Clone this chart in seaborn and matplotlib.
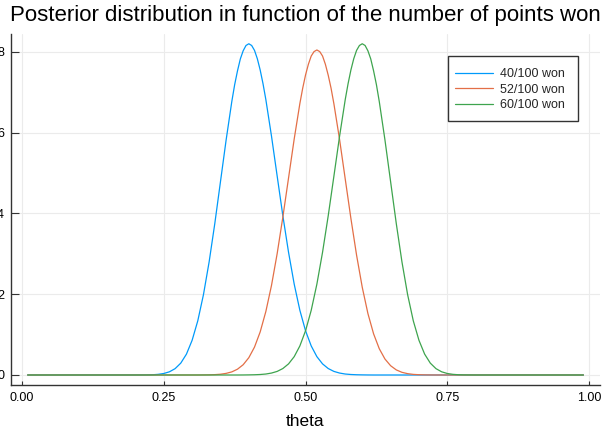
import pandas as pd
import matplotlib.pyplot as plt
import matplotlib.patches as mpatches
import seaborn as sns

# =====================================================================
# DATA
# =====================================================================
theta = [
    0.01, 0.02, 0.03, 0.04, 0.05, 0.06, 0.07, 0.08, 0.09, 0.10,
    0.11, 0.12, 0.13, 0.14, 0.15, 0.16, 0.17, 0.18, 0.19, 0.20,
    0.21, 0.22, 0.23, 0.24, 0.25, 0.26, 0.27, 0.28, 0.29, 0.30,
    0.31, 0.32, 0.33, 0.34, 0.35, 0.36, 0.37, 0.38, 0.39, 0.40,
    0.41, 0.42, 0.43, 0.44, 0.45, 0.46, 0.47, 0.48, 0.49, 0.50,
    0.51, 0.52, 0.53, 0.54, 0.55, 0.56, 0.57, 0.58, 0.59, 0.60,
    0.61, 0.62, 0.63, 0.64, 0.65, 0.66, 0.67, 0.68, 0.69, 0.70,
    0.71, 0.72, 0.73, 0.74, 0.75, 0.76, 0.77, 0.78, 0.79, 0.80,
    0.81, 0.82, 0.83, 0.84, 0.85, 0.86, 0.87, 0.88, 0.89, 0.90,
    0.91, 0.92, 0.93, 0.94, 0.95, 0.96, 0.97, 0.98, 0.99,
]

won_40 = [
    0, 0, 0, 0, 0, 0, 0, 0, 0, 0,
    0, 0, 0, 0, 0, 0, 0, 0, 0, 0,
    0.001, 0.002, 0.006, 0.016, 0.037, 0.079, 0.157, 0.294, 0.517, 0.859,
    1.342, 1.990, 2.801, 3.751, 4.788, 5.824, 6.774, 7.532, 8.029, 8.204,
    8.040, 7.555, 6.822, 5.913, 4.924, 3.944, 3.041, 2.251, 1.602, 1.095,
    0.720, 0.454, 0.275, 0.160, 0.089, 0.048, 0.024, 0.012, 0.006, 0.003,
    0.001, 0, 0, 0, 0, 0, 0, 0, 0, 0,
    0, 0, 0, 0, 0, 0, 0, 0, 0, 0,
    0, 0, 0, 0, 0, 0, 0, 0, 0, 0,
    0, 0, 0, 0, 0, 0, 0, 0, 0,
]

won_52 = [
    0, 0, 0, 0, 0, 0, 0, 0, 0, 0,
    0, 0, 0, 0, 0, 0, 0, 0, 0, 0,
    0, 0, 0, 0, 0, 0, 0, 0, 0, 0,
    0, 0.002, 0.004, 0.009, 0.019, 0.040, 0.077, 0.144, 0.254, 0.429,
    0.691, 1.066, 1.572, 2.220, 3.009, 3.911, 4.877, 5.845, 6.724, 7.431,
    7.900, 8.050, 7.900, 7.424, 6.717, 5.834, 4.853, 3.876, 2.967, 2.172,
    1.521, 1.019, 0.651, 0.396, 0.230, 0.126, 0.066, 0.033, 0.015, 0.007,
    0.003, 0.001, 0, 0, 0, 0, 0, 0, 0, 0,
    0, 0, 0, 0, 0, 0, 0, 0, 0, 0,
    0, 0, 0, 0, 0, 0, 0, 0, 0,
]

won_60 = [
    0, 0, 0, 0, 0, 0, 0, 0, 0, 0,
    0, 0, 0, 0, 0, 0, 0, 0, 0, 0,
    0, 0, 0, 0, 0, 0, 0, 0, 0, 0,
    0, 0, 0, 0, 0, 0, 0, 0, 0.001, 0.003,
    0.006, 0.012, 0.024, 0.048, 0.089, 0.160, 0.275, 0.454, 0.720, 1.095,
    1.602, 2.251, 3.041, 3.944, 4.924, 5.913, 6.822, 7.555, 8.040, 8.204,
    8.029, 7.532, 6.774, 5.824, 4.788, 3.751, 2.801, 1.990, 1.342, 0.859,
    0.517, 0.294, 0.157, 0.079, 0.037, 0.016, 0.006, 0.002, 0.001, 0,
    0, 0, 0, 0, 0, 0, 0, 0, 0, 0,
    0, 0, 0, 0, 0, 0, 0, 0, 0,
]

# extra readings around each peak so the tops stay round
peak_theta_40 = [0.375, 0.385, 0.395, 0.405, 0.415, 0.425]
peak_won_40 = [7.189, 7.827, 8.161, 8.161, 7.833, 7.215]
peak_theta_52 = [0.495, 0.505, 0.515, 0.525, 0.535, 0.545]
peak_won_52 = [7.103, 7.695, 8.010, 8.010, 7.695, 7.103]
peak_theta_60 = [0.575, 0.585, 0.595, 0.605, 0.615, 0.625]
peak_won_60 = [7.215, 7.833, 8.161, 8.161, 7.827, 7.189]

series_labels = ["40/100 won", "52/100 won", "60/100 won"]
x_ticks = [0.0, 0.25, 0.5, 0.75, 1.0]
x_tick_labels = ["0.00", "0.25", "0.50", "0.75", "1.00"]
y_ticks = [0, 2, 4, 6, 8]

# long format for seaborn
series_data = [
    (won_40, peak_theta_40, peak_won_40),
    (won_52, peak_theta_52, peak_won_52),
    (won_60, peak_theta_60, peak_won_60),
]
frames = []
for label, (values, p_theta, p_values) in zip(series_labels, series_data):
    frames.append(pd.DataFrame({"theta": theta + p_theta,
                                "density": values + p_values,
                                "series": label}))
df = pd.concat(frames, ignore_index=True)

# =====================================================================
# PLOTTING
# =====================================================================
sns.set_theme(style="white")
plt.rcParams['font.family'] = ['Liberation Sans', 'DejaVu Sans']

palette = {"40/100 won": "#009AFA", "52/100 won": "#E36F47", "60/100 won": "#3EA44E"}

fig = plt.figure(figsize=(6.03, 4.28), dpi=100)
ax = fig.add_axes([0.0182, 0.1005, 0.977, 0.8201])

sns.lineplot(data=df, x="theta", y="density", hue="series", hue_order=series_labels,
             palette=palette, estimator=None, sort=True, linewidth=0.9, ax=ax)

ax.set_xlim(-0.0194, 1.0194)
ax.set_ylim(-0.2475, 8.446)
ax.set_xticks(x_ticks)
ax.set_xticklabels(x_tick_labels)
ax.set_yticks(y_ticks)

# light grid, only left/bottom axes
ax.grid(True, color="#ebebeb", linewidth=0.8)
for side in ["top", "right"]:
    ax.spines[side].set_visible(False)
for side in ["left", "bottom"]:
    ax.spines[side].set_color("#333333")
    ax.spines[side].set_linewidth(1.0)

ax.tick_params(axis="y", direction="in", length=6, width=0.8, color="#333333",
               pad=5, labelsize=9, labelcolor="black", left=True)
ax.tick_params(axis="x", direction="in", length=3, width=0.8, color="#333333",
               pad=5, labelsize=9, labelcolor="black", bottom=True)

ax.set_title("Posterior distribution in function of the number of points won",
             fontsize=16, pad=9, color="black")
ax.set_xlabel("theta", fontsize=12.5, labelpad=7, color="black")
ax.set_ylabel("")

# legend box drawn by hand (Plots.jl style: square frame, uneven padding)
frame = mpatches.Rectangle((0.742, 0.752), 0.2207, 0.185, transform=ax.transAxes,
                           facecolor="white", edgecolor="#333333", linewidth=1.0,
                           zorder=4.5, clip_on=False)
ax.add_patch(frame)
leg = ax.legend(loc="upper left", bbox_to_anchor=(0.754, 0.903), fontsize=9,
                frameon=False, borderpad=0, borderaxespad=0,
                handlelength=3.04, handletextpad=0.56, labelspacing=0.29, title=None)
leg.set_zorder(5)

plt.savefig("out.png", dpi=100)
